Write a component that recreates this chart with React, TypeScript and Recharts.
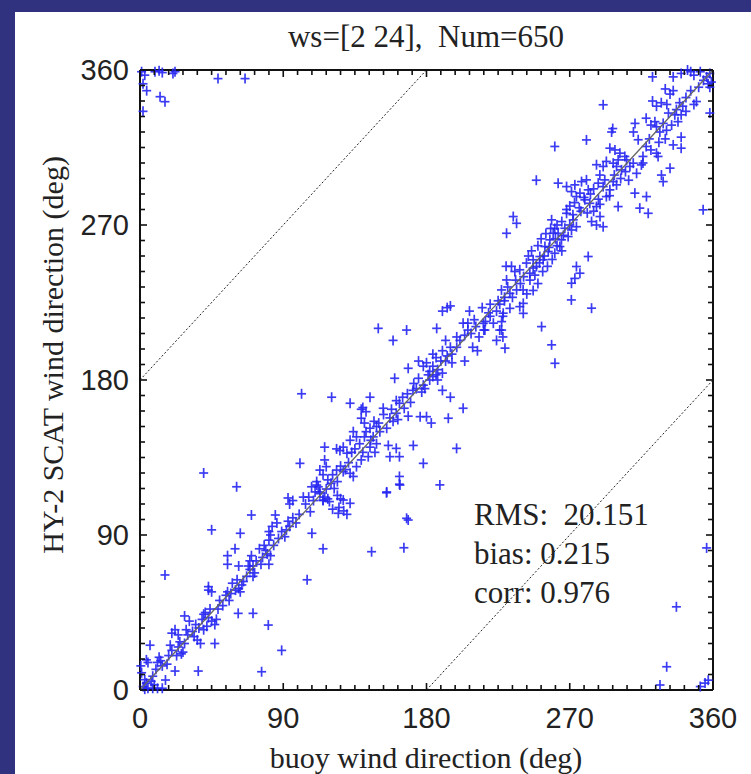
import React from "react";
import { ScatterChart, Scatter, XAxis, YAxis, ReferenceLine } from "recharts";

// buoy direction vs HY-2 SCAT direction (deg)
const lowBand: [number, number][] = [
  [60.7, 118], [111, 119], [113, 114], [116, 112], [115, 110], [118, 111], [93, 111.5], [94, 108],
  [107, 103.5], [121, 105], [125, 106], [70, 101.6], [85, 101.6], [93, 98], [94, 95], [92, 93],
  [83, 95], [81, 92], [86, 97], [45, 93], [63, 91], [82, 90], [81, 87], [108, 91], [115, 82],
  [59.7, 82], [75, 82], [78, 84], [80, 79], [82, 78], [81, 73], [76, 73], [70, 78], [69, 75],
  [71, 72], [55, 78], [55, 73], [62, 72], [69, 70], [71, 66], [72, 68], [105, 64], [15.7, 66.8],
  [43, 60], [43, 58], [45, 57], [55, 57], [54, 55], [57, 56], [62, 59], [64, 61], [63, 57],
  [60, 58], [61.7, 44.5], [71, 44.5], [40, 44], [41, 45], [28, 43], [31, 40], [35, 38], [43, 42],
  [45, 40], [48, 41], [47, 38], [42, 37], [40, 35], [80.6, 37.7], [20, 33], [22, 35], [24, 32],
  [30, 32], [34, 31], [36, 29], [38, 27], [47, 27], [6.3, 26], [19, 26], [20, 23], [24, 25],
  [27, 22], [26, 21], [89, 23], [12, 19], [13, 17], [11, 16], [5, 16], [4, 17.5], [22, 11],
  [16, 5.8], [36.6, 11], [76.4, 10.6], [3, 6], [4, 4], [7, 5], [9, 3], [2, 2], [8, 1], [11, 1],
  [3, 0.5], [1, 10], [0.5, 14], [14, 1], [5, 1], [40, 126],
  [8, 8], [10, 12], [14, 14], [17, 15], [18, 20], [23, 20], [25, 28], [28, 27], [29, 35], [33, 34],
  [37, 36], [39, 41], [44, 47], [49, 47], [50, 52], [52, 49], [56, 52], [58, 62], [61, 64], [65, 63],
  [67, 66], [68, 72], [73, 75], [77, 77], [79, 81], [84, 84], [87, 88], [89, 92], [91, 89], [96, 100],
  [98, 97], [100, 102],
];

const midBand: [number, number][] = [
  [149.7, 210], [167.5, 209], [159, 203], [186.4, 210], [190, 220], [193, 222], [195, 223],
  [207, 220], [215, 222], [220, 224], [224, 220], [220, 217], [228, 217], [203, 213], [206, 209],
  [208, 207], [211, 211], [216, 209], [226, 209], [228, 205], [224, 203], [209, 199], [212, 197],
  [192, 203], [195, 199], [199, 205], [184, 195], [186, 193], [190, 197], [192, 191], [196, 190],
  [204, 191], [175, 191], [178, 188], [180, 190], [182, 185], [184, 182], [186, 183], [187, 180],
  [182, 180], [190, 184], [168.5, 186.8], [160, 181], [173.6, 175], [171.5, 174], [177, 173],
  [179, 175], [190, 174], [195, 170], [203, 163.6], [101.5, 172], [120.4, 170], [144.5, 170],
  [132, 166.5], [139, 163], [140, 164], [142, 161.6], [152.8, 163.6], [161, 168], [163, 166.5],
  [166, 163.6], [168.5, 159], [161, 160.7], [157, 158], [159, 156], [176, 158.7], [180, 158.7],
  [183, 155], [193.7, 157.8], [139, 157.8], [141, 155], [144.5, 152], [148.6, 153], [150.7, 150],
  [146.5, 147], [134, 150], [136, 147], [132, 145], [127.7, 141], [125.6, 139], [123.5, 140],
  [130, 137.5], [116, 141], [116, 133.6], [100.5, 131.6], [141, 147], [144.5, 141], [148.6, 143],
  [147.6, 138], [143.4, 135.5], [156, 142], [161, 140.3], [163, 135.5], [157, 135.5], [171.7, 142],
  [198.9, 140.3], [178, 131.6], [139, 133.6], [136, 129.7], [132, 125.8], [134, 124], [127.7, 126.8],
  [123.5, 127.7], [117, 129.7], [113, 127.7], [115, 125], [111, 121], [107.8, 118], [110, 115],
  [113, 115], [117, 116.7], [119, 109.4], [115, 110.3], [102.6, 112], [163, 124], [163, 119.5],
  [155, 115], [188.4, 119.1], [127.7, 110.3], [132, 108.4], [124.6, 102.6], [96, 110], [167.5, 99.7],
  [154.9, 114.5], [163.3, 119], [168.5, 98.7], [145.5, 80.3], [165.8, 82.6], [120, 120], [122, 117],
  [124, 113], [126, 111], [128, 104], [130, 102],
  [104, 108], [106, 112], [109, 110], [112, 118], [118, 122], [121, 125], [124, 121], [126, 130],
  [129, 128], [131, 132], [133, 138], [135, 140], [138, 143], [140, 138], [142, 150], [145, 145],
  [147, 156], [150, 155], [153, 160], [155, 152], [158, 163], [162, 157], [165, 170], [168, 172],
  [170, 167], [172, 178], [175, 181], [178, 177], [181, 183], [184, 188], [187, 186], [189, 191],
  [193, 194], [196, 195], [199, 199], [201, 203], [204, 206], [206, 213], [210, 215], [213, 205],
  [217, 214], [219, 219], [222, 213], [225, 226], [229, 228],
];

const highBand: [number, number][] = [
  [322, 356], [335, 356], [340, 358], [344, 360], [348, 357], [346, 359], [357, 352], [358, 350],
  [330, 349], [335, 348], [333, 346], [322, 342], [327.5, 341], [324.5, 339], [331, 340], [332, 335],
  [337, 337], [339, 341], [341, 339], [336, 334], [340, 334], [343, 336], [349.6, 341.7], [291, 339.8],
  [358, 335], [318, 332], [323.5, 330], [321, 328], [328.7, 329], [330.8, 325], [326.6, 324],
  [324.5, 327], [311, 329], [310, 324], [313, 319.5], [297, 326], [296.3, 324], [280.5, 319.4],
  [340, 321], [340, 314.6], [335, 316.5], [260.6, 315.6], [318, 315.6], [321, 313.6], [324.5, 311.7],
  [325.5, 309.8], [316, 309.8], [295.2, 314.6], [298.4, 313.6], [301.5, 311.7], [304.6, 309.8],
  [305.7, 307.8], [300.4, 307.8], [297.3, 305.9], [293, 306.9], [291, 304], [299.4, 304], [302.5, 302],
  [307.8, 304], [309.9, 305.9], [315, 304.9], [286.8, 305], [333, 303], [327.6, 299], [328.7, 295.2],
  [288.9, 299], [292, 296.2], [287.9, 294.3], [291, 292.3], [295.2, 290.4], [299.4, 293.3],
  [297.3, 295.2], [249, 296], [262.7, 294.3], [268, 292.3], [273.2, 293.3], [277.4, 295.2],
  [280.5, 296.2], [281.6, 290.4], [276.4, 288.5], [271.1, 289.4], [274.2, 286.5], [279.5, 284.6],
  [282.6, 282.6], [293, 286.5], [310.9, 288.5], [318.2, 286.5], [314, 279.8], [319.3, 276.8],
  [300.4, 280.7], [286.8, 280.7], [289, 274.9], [291, 269], [286.8, 270], [283.7, 272],
  [268, 276.8], [272.2, 273], [274.2, 269], [271.1, 267.1], [266.9, 268.1], [269, 263.3],
  [264.8, 261.4], [262.7, 265.2], [260.6, 268], [258.6, 273], [259.6, 265.2], [263.8, 257.5],
  [234.5, 274.9], [236.6, 271], [230.3, 265.2], [257.5, 261.4], [254.4, 257.5], [256.5, 254.6],
  [260.6, 253.6], [251.2, 251.7], [253.3, 249.8], [247, 249.8], [249.1, 245.9], [247, 245],
  [248.1, 240.9], [244.9, 242], [242.8, 247.9], [238.6, 244], [235.5, 243], [233.4, 246], [230, 246],
  [230.3, 238.1], [227.1, 232.3], [232.4, 230.3], [236.6, 232.3], [240.7, 232.3], [238.6, 222.6],
  [232.4, 221.6], [228.2, 218.8], [281.6, 251.7], [274.2, 245.9], [276.4, 242], [273.2, 239],
  [271.1, 236.2], [271, 226.5], [283.7, 221.7], [252.3, 211], [258.6, 200.4], [260.7, 189.7],
  [240.8, 224.5], [240.8, 218.7], [227.2, 213.9], [227.2, 209], [229.3, 198.5], [216.7, 209],
  [215.7, 212.9],
  [244, 252], [246, 255], [250, 258], [252, 262], [255, 265], [258, 268], [262, 270], [265, 272],
  [268, 279], [270, 281], [273, 283], [276, 280], [279, 286], [283, 288], [285, 291], [288, 285],
  [262, 258], [265, 255], [259, 250], [256, 246], [253, 243], [250, 236], [245, 238], [241, 240],
  [239, 236], [236, 238], [231, 234], [234, 228], [229, 226], [226, 224], [243, 230], [247, 232],
  [251, 248], [254, 252], [257, 257], [261, 262], [266, 264], [270, 270], [272, 276], [277, 278],
  [281, 277], [285, 278], [289, 282], [295, 287], [298, 299], [302, 297], [305, 301], [307, 296],
  [312, 300], [316, 306], [320, 320], [326, 318], [330, 320], [334, 328], [338, 330], [343, 344],
  [346, 348], [351, 350], [354, 354], [348, 340],
];

// points wrapped across the 0/360 seam and other far misses
const wrapOutliers: [number, number][] = [
  [9.4, 359], [12, 359.5], [14, 358.5], [20.7, 358], [22, 359], [1.9, 352], [4.2, 348], [12.6, 344.5],
  [15.7, 341.6], [1.9, 336], [49, 355], [66, 355], [1, 359], [3, 357], [353.8, 278.8], [356, 82.5],
  [337, 48.3], [330.9, 13.5], [326.7, 2.9], [352, 2], [355, 4], [357, 5.7], [358, 358], [356, 356],
  [359, 353], [352, 359],
];

const majorTicks = [0, 90, 180, 270, 360];
const minorTicks = [
  0, 9, 18, 27, 36, 45, 54, 63, 72, 81, 90, 99, 108, 117, 126, 135, 144, 153, 162, 171, 180,
  189, 198, 207, 216, 225, 234, 243, 252, 261, 270, 279, 288, 297, 306, 315, 324, 333, 342, 351, 360,
];

const titleText = "ws=[2 24],  Num=650";
const statLines = ["RMS:  20.151", "bias: 0.215", "corr: 0.976"];

const points = [...lowBand, ...midBand, ...highBand, ...wrapOutliers].map(([buoy, scat]) => ({ buoy, scat }));
// 1:1 line, drawn on the top/right axis pair so those axes carry data
const oneToOne = majorTicks.map((v) => ({ buoy: v, scat: v }));

const SERIF = "'Liberation Serif', 'Times New Roman', serif";
const SANS = "'Liberation Sans', Arial, sans-serif";
const isMajor = (v: number) => v % 90 === 0;

const PlusMark = (props: any) => {
  const { cx, cy } = props;
  return (
    <g stroke="#2626f2" strokeWidth={1.7} opacity={0.9}>
      <line x1={cx - 4.5} x2={cx + 4.5} y1={cy} y2={cy} />
      <line x1={cx} x2={cx} y1={cy - 5} y2={cy + 5} />
    </g>
  );
};

const NoMark = () => <g />;

const BottomTick = (props: any) => {
  const { x, y, payload } = props;
  const major = isMajor(payload.value);
  return (
    <g>
      <line x1={x} x2={x} y1={y} y2={y - (major ? 7 : 5)} stroke="#111" strokeWidth={1.6} />
      {major && (
        <text x={x} y={y + 38} textAnchor="middle" fontFamily={SANS} fontSize={29} fill="#222">
          {payload.value}
        </text>
      )}
    </g>
  );
};

const LeftTick = (props: any) => {
  const { x, y, payload } = props;
  const major = isMajor(payload.value);
  return (
    <g>
      <line x1={x} x2={x + (major ? 7 : 5)} y1={y} y2={y} stroke="#111" strokeWidth={1.6} />
      {major && (
        <text x={x - 11} y={y + 10} textAnchor="end" fontFamily={SANS} fontSize={29} fill="#222">
          {payload.value}
        </text>
      )}
    </g>
  );
};

const TopTick = (props: any) => {
  const { x, y, payload } = props;
  return <line x1={x} x2={x} y1={y} y2={y + (isMajor(payload.value) ? 7 : 5)} stroke="#111" strokeWidth={1.6} />;
};

const RightTick = (props: any) => {
  const { x, y, payload } = props;
  return <line x1={x} x2={x - (isMajor(payload.value) ? 7 : 5)} y1={y} y2={y} stroke="#111" strokeWidth={1.6} />;
};

const axisLine = { stroke: "#111", strokeWidth: 2 };

export default function App() {
  return (
    <div style={{ position: "absolute", left: 0, top: 0, width: 751, height: 774, background: "#30317f" }}>
      <div style={{ position: "absolute", left: 15, top: 12, width: 736, height: 762, background: "#fff" }} />
      <div style={{ position: "absolute", left: 0, top: 0 }}>
        <ScatterChart width={751} height={774} margin={{ top: 69, right: 37, left: 0, bottom: 0 }}>
          <XAxis
            dataKey="buoy"
            type="number"
            domain={[0, 360]}
            ticks={minorTicks}
            interval={0}
            height={84}
            tickSize={0}
            tickMargin={0}
            tickLine={false}
            axisLine={axisLine}
            tick={<BottomTick />}
          />
          <XAxis
            xAxisId="top"
            dataKey="buoy"
            orientation="top"
            type="number"
            domain={[0, 360]}
            ticks={minorTicks}
            interval={0}
            height={1}
            tickSize={0}
            tickMargin={0}
            tickLine={false}
            axisLine={axisLine}
            tick={<TopTick />}
          />
          <YAxis
            dataKey="scat"
            type="number"
            domain={[0, 360]}
            ticks={minorTicks}
            interval={0}
            width={140}
            tickSize={0}
            tickMargin={0}
            tickLine={false}
            axisLine={axisLine}
            tick={<LeftTick />}
          />
          <YAxis
            yAxisId="right"
            dataKey="scat"
            orientation="right"
            type="number"
            domain={[0, 360]}
            ticks={minorTicks}
            interval={0}
            width={1}
            tickSize={0}
            tickMargin={0}
            tickLine={false}
            axisLine={axisLine}
            tick={<RightTick />}
          />
          <Scatter data={points} shape={<PlusMark />} isAnimationActive={false} />
          <Scatter
            xAxisId="top"
            yAxisId="right"
            data={oneToOne}
            shape={<NoMark />}
            line={{ stroke: "#666", strokeWidth: 1.3 }}
            isAnimationActive={false}
          />
          <ReferenceLine segment={[{ x: 0, y: 180 }, { x: 180, y: 360 }]} stroke="#222" strokeWidth={1} strokeDasharray="2 2" />
          <ReferenceLine segment={[{ x: 180, y: 0 }, { x: 360, y: 180 }]} stroke="#222" strokeWidth={1} strokeDasharray="2 2" />
        </ScatterChart>
      </div>
      <svg width={751} height={774} style={{ position: "absolute", left: 0, top: 0, pointerEvents: "none" }}>
        <text x={426} y={47} textAnchor="middle" fontFamily={SERIF} fontSize={31} fill="#222" style={{ whiteSpace: "pre" }}>
          {titleText}
        </text>
        {statLines.map((line, i) => (
          <text key={line} x={474} y={525 + i * 39} fontFamily={SERIF} fontSize={31} fill="#222" style={{ whiteSpace: "pre" }}>
            {line}
          </text>
        ))}
        <text x={426} y={768} textAnchor="middle" fontFamily={SERIF} fontSize={30} fill="#222">
          buoy wind direction (deg)
        </text>
        <text transform="rotate(-90)" x={-355} y={63} textAnchor="middle" fontFamily={SERIF} fontSize={30} fill="#222">
          HY-2 SCAT wind direction (deg)
        </text>
      </svg>
    </div>
  );
}
